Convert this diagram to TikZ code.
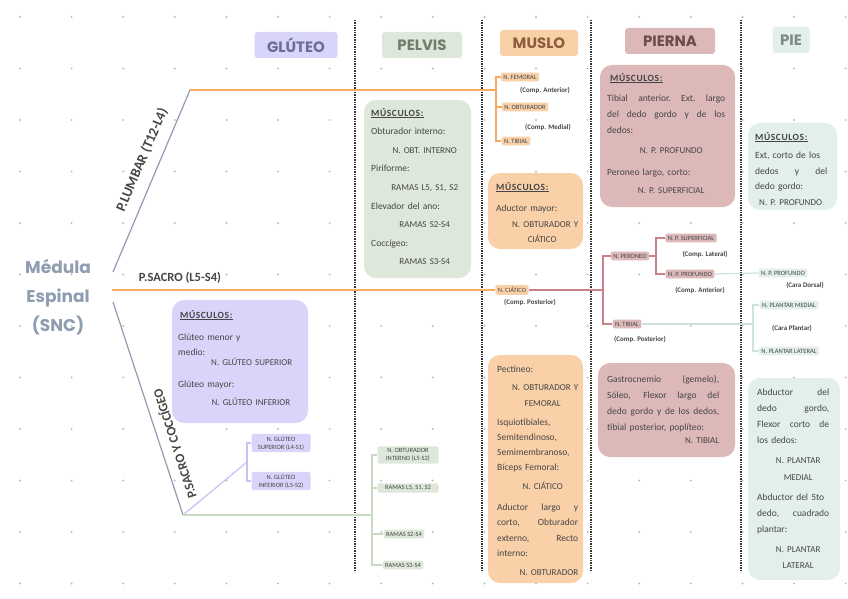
\documentclass[tikz,border=0pt]{standalone}
\usepackage{fontspec}
\setmainfont{Carlito}
\newfontfamily\headfont{Poppins}
\usetikzlibrary{positioning}

\definecolor{glufill}{HTML}{D9D5FA}
\definecolor{glutxt}{HTML}{6E6C93}
\definecolor{pelfill}{HTML}{DDE8DA}
\definecolor{peltxt}{HTML}{6E7D6C}
\definecolor{musfill}{HTML}{F9D0A8}
\definecolor{mustxt}{HTML}{8C5E3C}
\definecolor{pierfill}{HTML}{DDB8B9}
\definecolor{piertxt}{HTML}{6E4A4B}
\definecolor{piefill}{HTML}{E3EFEA}
\definecolor{pietxt}{HTML}{7E8A85}
\definecolor{spine}{HTML}{8E9DB0}
\definecolor{txtgray}{HTML}{454545}
\definecolor{lorange}{HTML}{F6AA62}
\definecolor{lpink}{HTML}{CB7F88}
\definecolor{lmint}{HTML}{CDE4DC}
\definecolor{llav}{HTML}{C8C1F6}
\definecolor{lgreen}{HTML}{C8DBC2}
\definecolor{griddot}{HTML}{BDBDBD}

\newcommand{\nrv}[1]{\makebox[\hsize][c]{\hspace{10pt}\fontsize{9}{9}\selectfont #1}}
\newcommand{\nrvr}[1]{\makebox[\hsize][r]{\fontsize{9}{9}\selectfont #1}}
\newcommand{\jl}[1]{\makebox[\hsize][s]{\spaceskip=.3em plus 1fil\xspaceskip=.3em plus 1fil\relax #1}}
\newcommand{\mus}{\underline{\textbf{\addfontfeature{LetterSpace=6}MÚSCULOS:}}}

\tikzset{
  hdr/.style={rounded corners=3pt, inner sep=0pt, font=\headfont\bfseries\fontsize{15}{15}\selectfont},
  musbox/.style={rounded corners=12pt, fill=#1, inner sep=0pt},
  boxtxt/.style={anchor=north west, align=left, inner sep=0pt, text=txtgray},
  tag/.style={fill=#1, rounded corners=2pt, inner xsep=2.5pt, inner ysep=2.2pt, text=txtgray,
    font=\fontsize{6.5}{7.5}\selectfont, align=center},
  note/.style={font=\bfseries\fontsize{7}{7}\selectfont, text=txtgray},
  branch/.style={font=\bfseries\fontsize{14}{14}\selectfont, text=txtgray},
  sep/.style={densely dotted, line width=1.4pt, draw=black!80},
  lnk/.style={line width=1.2pt, draw=#1},
}

\begin{document}
\begin{tikzpicture}[x=1pt,y=-1pt]
\useasboundingbox (0,0) rectangle (848,599);
\fill[white] (0,0) rectangle (848,599);

% dotted paper
\foreach \i in {0,...,16}
  \foreach \j in {0,...,11}
    \fill[griddot] (20+51.6*\i,17+51.5*\j) circle (1.1);

% column separators
\foreach \sx in {355,482,591,741}
  \draw[sep] (\sx,20) -- (\sx,572);

% column headers
\node[hdr, fill=glufill, text=glutxt, minimum width=83, minimum height=26] (hglu) at (296,45) {GLÚTEO};
\node[hdr, fill=pelfill, text=peltxt, minimum width=80, minimum height=26] (hpel) at (422,45) {PELVIS};
\node[hdr, fill=musfill, text=mustxt, minimum width=78, minimum height=26] (hmus) at (539,43) {MUSLO};
\node[hdr, fill=pierfill, text=piertxt, minimum width=90, minimum height=26] (hpier) at (670,41) {PIERNA};
\node[hdr, fill=piefill, text=pietxt, minimum width=37, minimum height=26] (hpie) at (791,40) {PIE};

% spinal cord
\node[font=\headfont\bfseries\fontsize{17}{29}\selectfont, text=spine, align=center] (snc) at (58,297)
  {Médula\\Espinal\\(SNC)};

% muscle boxes
\node[musbox=pelfill, minimum width=107, minimum height=178] (pelmus) at (417.5,189) {};
\node[boxtxt, text width=97, font=\fontsize{9.5}{18.6}\selectfont] (peltxt) at (371,108) {%
  \mus\\
  Obturador interno:\\
  \nrv{N. OBT. INTERNO}\\
  Piriforme:\\
  \nrv{RAMAS L5, S1, S2}\\
  Elevador del ano:\\
  \nrv{RAMAS S2-S4}\\
  Coccígeo:\\
  \nrv{RAMAS S3-S4}};

\node[musbox=musfill, minimum width=95, minimum height=76] (mustop) at (535.5,211) {};
\node[boxtxt, text width=82, font=\fontsize{9.5}{15.5}\selectfont] (mustoptxt) at (496,182) {%
  \mus\\[6pt]
  Aductor mayor:\\
  \nrvr{N. OBTURADOR Y}\\
  \nrv{CIÁTICO}};

\node[musbox=pierfill, minimum width=135, minimum height=142] (piertop) at (667.5,136) {};
\node[boxtxt, text width=118, font=\fontsize{9.5}{16}\selectfont] (piertoptxt) at (607,73) {%
  \hspace{3pt}\mus\\[4pt]
  \jl{Tibial anterior. Ext. largo}\\
  \jl{del dedo gordo y de los}\\
  dedos:\\[4pt]
  \nrv{N. P. PROFUNDO}\\[6pt]
  Peroneo largo, corto:\\[2pt]
  \nrv{N. P. SUPERFICIAL}};

\node[musbox=piefill, minimum width=89, minimum height=87] (pietop) at (792.5,166.5) {};
\node[boxtxt, text width=72, font=\fontsize{9.5}{15.5}\selectfont] (pietoptxt) at (755,132) {%
  \mus\\[3pt]
  Ext, corto de los\\
  \jl{dedos y del}\\
  dedo gordo:\\
  \hspace*{4pt}{\fontsize{9}{9}\selectfont N. P. PROFUNDO}};

\node[musbox=glufill, minimum width=136, minimum height=123] (glumus) at (240,361.5) {};
\node[boxtxt, text width=120, font=\fontsize{9.5}{15}\selectfont] (glutxt) at (178,310) {%
  \hspace{2pt}\mus\\[7pt]
  Glúteo menor y\\
  medio:\\[-5pt]
  \nrvr{N. GLÚTEO SUPERIOR\hspace{6pt}}\\[7pt]
  Glúteo mayor:\\[3pt]
  \nrvr{N. GLÚTEO INFERIOR\hspace{8pt}}};

\node[musbox=musfill, minimum width=95, minimum height=228] (musbot) at (535.5,469) {};
\node[boxtxt, text width=81, font=\fontsize{9.5}{15.3}\selectfont] (musbottxt) at (497,366) {%
  Pectíneo:\\[3pt]
  \nrvr{N. OBTURADOR Y}\\
  \nrv{FEMORAL}\\[3.5pt]
  Isquiotibiales,\\
  Semitendinoso,\\
  Semimembranoso,\\
  Bíceps Femoral:\\[3.5pt]
  \nrv{N. CIÁTICO}\\[5.5pt]
  \jl{Aductor largo y}\\
  \jl{corto, Obturador}\\
  \jl{externo, Recto}\\
  interno:\\[3.5pt]
  \nrvr{N. OBTURADOR}};

\node[musbox=pierfill, minimum width=137, minimum height=94] (pierbot) at (666.5,410) {};
\node[boxtxt, text width=112, font=\fontsize{9.5}{16}\selectfont] (pierbottxt) at (607,375) {%
  \jl{Gastrocnemio (gemelo),}\\
  \jl{Sóleo, Flexor largo del}\\
  \jl{dedo gordo y de los dedos,}\\
  tibial posterior, poplíteo:\\[-3pt]
  \nrvr{N. TIBIAL}};

\node[musbox=piefill, minimum width=92, minimum height=202] (piebot) at (794,479) {};
\node[boxtxt, text width=72, font=\fontsize{9.5}{16}\selectfont] (piebottxt) at (757,389) {%
  \jl{Abductor del}\\
  \jl{dedo gordo,}\\
  \jl{Flexor corto de}\\
  los dedos:\\[4pt]
  \nrv{N. PLANTAR}\\[1pt]
  \nrv{MEDIAL}\\[4pt]
  Abductor del 5to\\
  \jl{dedo, cuadrado}\\
  plantar:\\[4pt]
  \nrv{N. PLANTAR}\\
  \nrv{LATERAL}};

% plexus labels
\node[branch, rotate=67] (lblumb) at (142,160) {P.LUMBAR (T12-L4)};
\node[branch, font=\bfseries\fontsize{12.5}{12.5}\selectfont] (lbsacro) at (180,278) {P.SACRO (L5-S4)};
\node[branch, font=\bfseries\fontsize{13}{13}\selectfont, rotate=108] (lbcocc) at (174,444) {P.SACRO Y COCCÍGEO};

% lumbar branch tags
\node[tag=musfill] (femoral) at (520,77) {N. FEMORAL};
\node[note] (nfemoral) at (545,90) {(Comp. Anterior)};
\node[tag=musfill] (obtL) at (525,107) {N. OBTURADOR};
\node[note] (nobtL) at (548,127) {(Comp. Medial)};
\node[tag=musfill] (tibialL) at (516,141) {N. TIBIAL};

% sacral branch tags
\node[tag=musfill] (ciatico) at (512,290) {N. CIÁTICO};
\node[note] (nciatico) at (530,302) {(Comp. Posterior)};
\node[tag=pierfill] (peroneo) at (630,256) {N. PERONEO};
\node[tag=pierfill] (tibial) at (627,324) {N. TIBIAL};
\node[note] (ntibial) at (640,339) {(Comp. Posterior)};
\node[tag=pierfill] (psup) at (691,238) {N. P. SUPERFICIAL};
\node[note] (npsup) at (705,254) {(Comp. Lateral)};
\node[tag=pierfill] (pprof) at (690,274) {N. P. PROFUNDO};
\node[note] (npprof) at (700,290) {(Comp. Anterior)};
\node[tag=piefill] (pprofpie) at (783,273) {N. P. PROFUNDO};
\node[note] (npprofpie) at (805,285) {(Cara Dorsal)};
\node[tag=piefill] (pmed) at (789,305) {N. PLANTAR MEDIAL};
\node[note] (nplantar) at (792,328) {(Cara Plantar)};
\node[tag=piefill] (plat) at (789,351) {N. PLANTAR LATERAL};

% coccygeal branch tags
\node[tag=glufill, minimum width=59] (glsup) at (281,443) {N. GLÚTEO\\SUPERIOR (L4-S1)};
\node[tag=glufill, minimum width=59] (glinf) at (281,481) {N. GLÚTEO\\INFERIOR (L5-S2)};
\node[tag=pelfill, minimum width=61] (obtint) at (408,455) {N. OBTURADOR\\INTERNO (L5-S2)};
\node[tag=pelfill, minimum width=61] (r15) at (408,488) {RAMAS L5, S1, S2};
\node[tag=pelfill] (r24) at (404,534) {RAMAS S2-S4};
\node[tag=pelfill] (r34) at (403,565) {RAMAS S3-S4};

% connectors
\coordinate (lumbroot) at (113,272);
\coordinate (sacroot) at (112,290);
\coordinate (coccroot) at (113,302);
\coordinate (lumbturn) at (190,90);
\coordinate (lumbx) at (496,90);
\coordinate (cocc) at (183,515);
\coordinate (glx) at (247,462);
\coordinate (pelx) at (372,515);
\coordinate (ciatx) at (603,290);
\coordinate (perx) at (656,256);
\coordinate (tibx) at (753,324);

\draw[lnk=spine] (lumbroot) -- (lumbturn);
\draw[lnk=lorange] (lumbturn) -- (lumbx);
\draw[lnk=lorange] (femoral.west) -| (lumbx) |- (tibialL.west);
\draw[lnk=lorange] (obtL.west) -- (obtL.west -| lumbx);

\draw[lnk=lorange] (sacroot) -- (ciatico.west);
\draw[lnk=lpink] (ciatico.east) -- (ciatx);
\draw[lnk=lpink] (peroneo.west) -| (ciatx) |- (tibial.west);
\draw[lnk=lpink] (peroneo.east) -- (perx);
\draw[lnk=lpink] (psup.west) -| (perx) |- (pprof.west);
\draw[lnk=lmint] (pprof.east) -- (pprofpie.west);
\draw[lnk=lmint] (tibial.east) -- (tibx);
\draw[lnk=lmint] (pmed.west) -| (tibx) |- (plat.west);

\draw[lnk=spine] (coccroot) -- (cocc);
\draw[lnk=llav] (cocc) -- (glx);
\draw[lnk=llav] (glsup.west) -| (glx) |- (glinf.west);
\draw[lnk=lgreen] (cocc) -- (pelx);
\draw[lnk=lgreen] (obtint.west) -| (pelx) |- (r34.west);
\draw[lnk=lgreen] (r15.west) -- (r15.west -| pelx);
\draw[lnk=lgreen] (r24.west) -- (r24.west -| pelx);
\end{tikzpicture}
\end{document}
